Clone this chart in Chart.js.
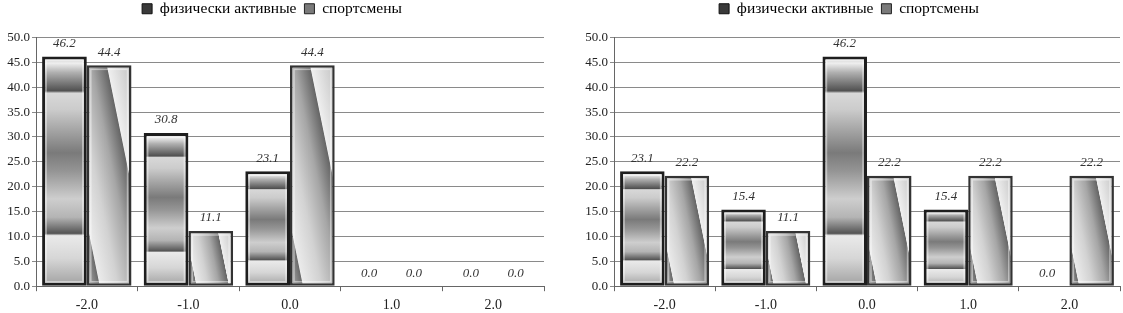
<!DOCTYPE html>
<html>
<head>
<meta charset="utf-8">
<script src="https://cdn.jsdelivr.net/npm/chart.js@4.4.0/dist/chart.umd.min.js"></script>
<style>
  body { margin: 0; background: #fff; width: 1123px; height: 313px; position: relative; overflow: hidden; }
  .box { position: absolute; top: 0; height: 320px; }
  #b1 { left: 0; width: 550px; }
  #b2 { left: 578px; width: 545px; }
</style>
</head>
<body>
<div class="box" id="b1"><canvas id="c1"></canvas></div>
<div class="box" id="b2"><canvas id="c2"></canvas></div>
<script>
// данные
const categories = ['-2.0', '-1.0', '0.0', '1.0', '2.0'];
const seriesNames = ['физически активные', 'спортсмены'];
const leftActive = [46.2, 30.8, 23.1, 0.0, 0.0];
const leftSport = [44.4, 11.1, 44.4, 0.0, 0.0];
const rightActive = [23.1, 15.4, 46.2, 15.4, 0.0];
const rightSport = [22.2, 11.1, 22.2, 22.2, 22.2];
const yMin = 0, yMax = 50, yStep = 5;

const serif = '"Liberation Serif", "DejaVu Serif", serif';

// вертикальный "хромированный" градиент для первой серии
function activeFill(c) {
    const chart = c.chart;
    if (!chart.chartArea || c.type !== 'data' || !c.raw) return '#888';
    const y = chart.scales.y;
    const top = y.getPixelForValue(c.raw), bot = y.getPixelForValue(0);
    const g = chart.ctx.createLinearGradient(0, top, 0, bot);
    g.addColorStop(0, '#c4c4c4');
    g.addColorStop(0.03, '#eeeeee');
    g.addColorStop(0.07, '#b0b0b0');
    g.addColorStop(0.15, '#505050');
    g.addColorStop(0.16, '#d8d8d8');
    g.addColorStop(0.23, '#cccccc');
    g.addColorStop(0.42, '#7a7a7a');
    g.addColorStop(0.5, '#959595');
    g.addColorStop(0.62, '#cecece');
    g.addColorStop(0.7, '#b4b4b4');
    g.addColorStop(0.77, '#545454');
    g.addColorStop(0.78, '#eaeaea');
    g.addColorStop(0.88, '#d6d6d6');
    g.addColorStop(1, '#a0a0a0');
    return g;
}

// диагональный градиент для второй серии
function sportFill(c) {
    const chart = c.chart;
    if (!chart.chartArea || c.type !== 'data' || !c.raw) return '#bbb';
    const x = chart.scales.x, y = chart.scales.y;
    const catW = (x.right - x.left) / categories.length;
    const barW = catW * 0.88 / 2;
    const cx = x.getPixelForValue(c.dataIndex) + barW / 2;
    const top = y.getPixelForValue(c.raw), bot = y.getPixelForValue(0);
    const cy = (top + bot) / 2, h = bot - top;
    const dx = 0.98, dy = -0.2;
    const half = (barW * dx + h * -dy) / 2;
    const g = chart.ctx.createLinearGradient(cx - dx * half, cy - dy * half, cx + dx * half, cy + dy * half);
    g.addColorStop(0, '#b4b4b4');
    g.addColorStop(0.14, '#6c6c6c');
    g.addColorStop(0.15, '#ebebeb');
    g.addColorStop(0.35, '#d2d2d2');
    g.addColorStop(0.55, '#a6a6a6');
    g.addColorStop(0.72, '#666666');
    g.addColorStop(0.73, '#efefef');
    g.addColorStop(1, '#c2c2c2');
    return g;
}

// больше места между легендой и графиком
const legendGap = {
    id: 'legendGap',
    beforeInit(chart) {
        const fit = chart.legend.fit;
        chart.legend.fit = function () {
            fit.bind(chart.legend)();
            this.height += 11;
        };
    }
};

// подписи значений над столбцами + внутренняя фаска
const valueLabels = {
    id: 'valueLabels',
    afterDatasetsDraw(chart) {
        const ctx = chart.ctx;
        ctx.save();
        chart.data.datasets.forEach((ds, i) => {
            const meta = chart.getDatasetMeta(i);
            meta.data.forEach((bar, j) => {
                const v = ds.data[j];
                if (v > 0) {
                    const p = bar.getProps(['x', 'y', 'base', 'width'], true);
                    ctx.strokeStyle = 'rgba(255,255,255,0.45)';
                    ctx.lineWidth = 1.5;
                    ctx.strokeRect(p.x - p.width / 2 + 4, p.y + 4, p.width - 8, p.base - p.y - 8);
                }
                ctx.fillStyle = '#333';
                ctx.font = 'italic 13px ' + serif;
                ctx.textAlign = 'center';
                ctx.textBaseline = 'middle';
                ctx.fillText(v.toFixed(1), bar.x, bar.y - 13);
            });
        });
        ctx.restore();
    }
};

function makeChart(id, active, sport, padRight) {
    return new Chart(document.getElementById(id), {
        type: 'bar',
        data: {
            labels: categories,
            datasets: [{
                label: seriesNames[0],
                data: active,
                backgroundColor: activeFill,
                borderColor: '#1e1e1e',
                borderWidth: c => (c.raw ? 3 : 0),
                borderSkipped: false,
                categoryPercentage: 0.88,
                barPercentage: 1.0
            }, {
                label: seriesNames[1],
                data: sport,
                backgroundColor: sportFill,
                borderColor: '#333',
                borderWidth: c => (c.raw ? 2.5 : 0),
                borderSkipped: false,
                categoryPercentage: 0.88,
                barPercentage: 1.0
            }]
        },
        options: {
            responsive: true,
            maintainAspectRatio: false,
            animation: false,
            layout: { padding: { top: -7, right: padRight, bottom: 0, left: 0 } },
            plugins: {
                legend: {
                    display: true,
                    position: 'top',
                    labels: {
                        font: { family: serif, size: 15.5 },
                        color: '#222',
                        boxWidth: 10,
                        boxHeight: 10,
                        padding: 8,
                        generateLabels: () => [
                            { text: seriesNames[0], fillStyle: '#3a3a3a', strokeStyle: '#111', lineWidth: 1, datasetIndex: 0 },
                            { text: seriesNames[1], fillStyle: '#7a7a7a', strokeStyle: '#222', lineWidth: 1, datasetIndex: 1 }
                        ]
                    }
                },
                tooltip: { enabled: false }
            },
            scales: {
                x: {
                    grid: { display: true, drawOnChartArea: false, drawTicks: true, tickLength: 5, offset: true, color: '#666' },
                    border: { color: '#666' },
                    ticks: { font: { family: serif, size: 14 }, color: '#222', padding: 6 }
                },
                y: {
                    min: yMin,
                    max: yMax,
                    afterFit: s => { s.width = 36; },
                    grid: { color: '#8a8a8a', tickLength: 4 },
                    border: { color: '#666' },
                    ticks: {
                        stepSize: yStep,
                        font: { family: serif, size: 13 },
                        color: '#222',
                        padding: 2,
                        callback: v => Number(v).toFixed(1)
                    }
                }
            }
        },
        plugins: [legendGap, valueLabels]
    });
}

makeChart('c1', leftActive, leftSport, 6);
makeChart('c2', rightActive, rightSport, 3);
</script>
</body>
</html>
